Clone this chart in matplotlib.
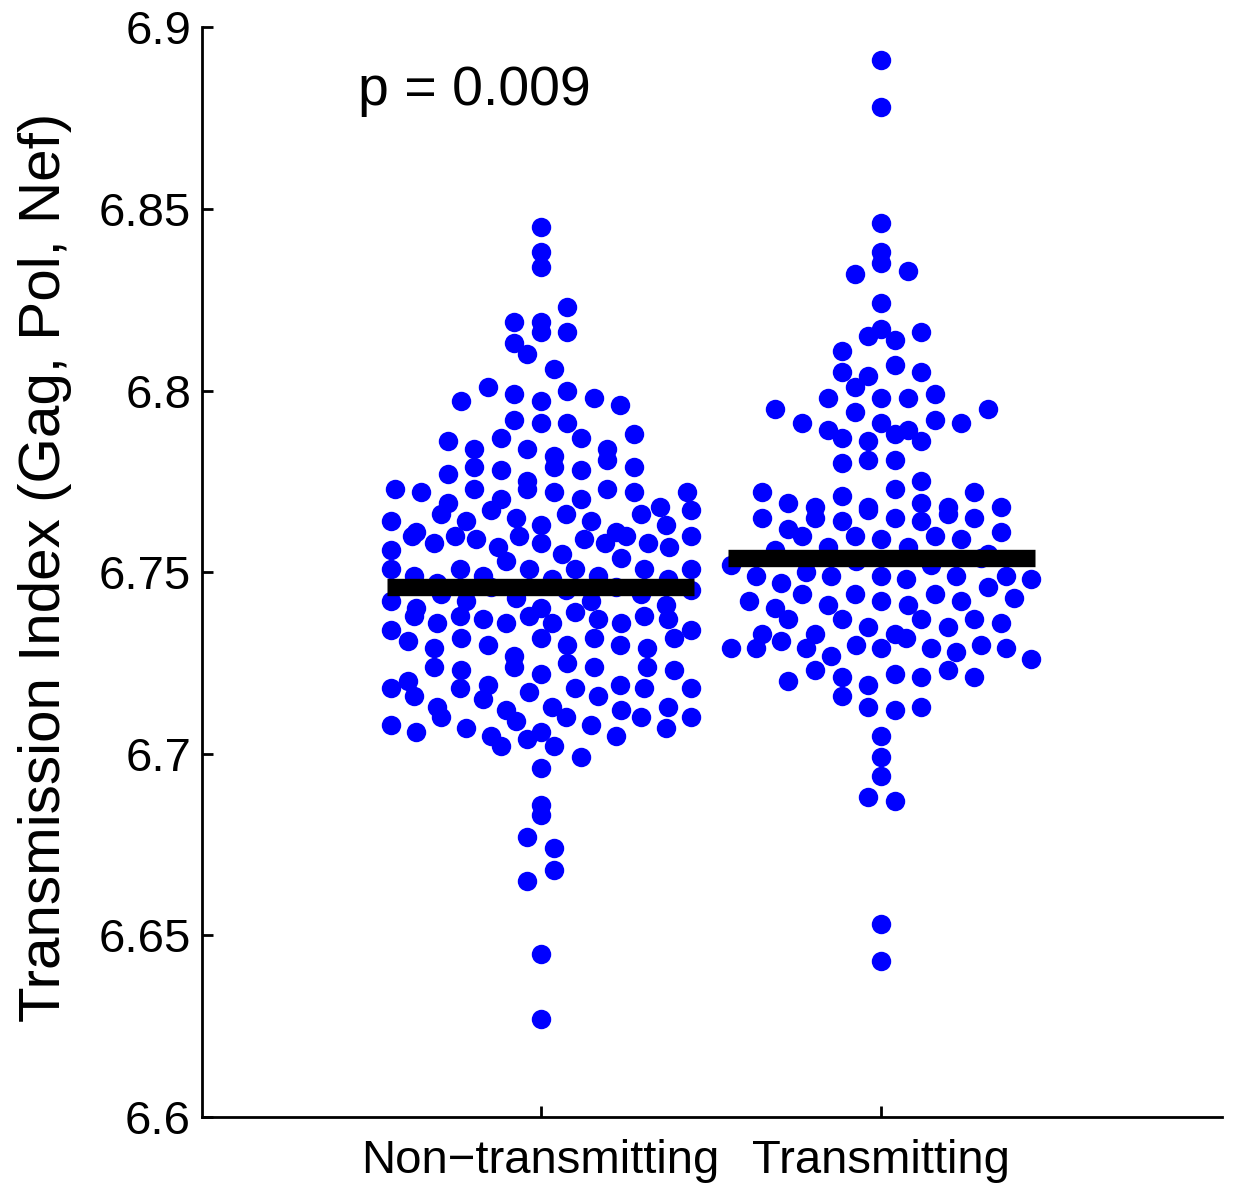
import matplotlib
matplotlib.use("Agg")
import matplotlib.pyplot as plt
import numpy as np

plt.rcParams['font.family'] = ['Liberation Sans', 'DejaVu Sans']

# values
groups = ["Non\u2212transmitting", "Transmitting"]

non_trans = [
    6.845, 6.838, 6.834, 6.823, 6.819, 6.819, 6.816, 6.816, 6.813, 6.810,
    6.806, 6.801, 6.800, 6.799, 6.798, 6.797, 6.796, 6.797,
    6.792, 6.791, 6.791, 6.788, 6.787, 6.784, 6.784, 6.782, 6.784, 6.786,
    6.787, 6.779, 6.779, 6.781, 6.778, 6.779, 6.778, 6.775, 6.772, 6.773,
    6.770, 6.772, 6.772, 6.777, 6.773, 6.773, 6.769, 6.772, 6.770, 6.773,
    6.765, 6.767, 6.767, 6.766, 6.766, 6.764, 6.764, 6.763, 6.768, 6.766,
    6.763, 6.764, 6.760, 6.759, 6.758, 6.760, 6.759, 6.760, 6.761, 6.757,
    6.757, 6.755, 6.758, 6.760, 6.761, 6.756, 6.754, 6.753, 6.758, 6.758,
    6.760, 6.751, 6.751, 6.751, 6.751, 6.751, 6.751, 6.749, 6.748, 6.749,
    6.749, 6.748, 6.747, 6.746, 6.746, 6.745,
    6.738, 6.740, 6.736, 6.736, 6.744, 6.742, 6.738, 6.738, 6.743, 6.740,
    6.741, 6.742, 6.745, 6.742, 6.744, 6.739, 6.737, 6.737, 6.737, 6.736,
    6.738, 6.734, 6.736, 6.732, 6.732, 6.730, 6.734, 6.729, 6.730, 6.732,
    6.731, 6.729, 6.732, 6.730, 6.724, 6.724, 6.723, 6.723, 6.724, 6.724,
    6.727, 6.722, 6.725, 6.718, 6.720, 6.716, 6.719, 6.718, 6.718, 6.716,
    6.715, 6.717, 6.719, 6.718, 6.718, 6.713, 6.713, 6.709, 6.710, 6.710,
    6.710, 6.713, 6.710, 6.707, 6.708, 6.712, 6.712, 6.708, 6.706, 6.707,
    6.706, 6.705, 6.702, 6.704, 6.705, 6.702,
    6.699, 6.696, 6.686, 6.683, 6.677, 6.674, 6.668, 6.665, 6.645, 6.627,
]

trans = [
    6.891, 6.878, 6.846, 6.838, 6.835, 6.833, 6.832,
    6.824, 6.817, 6.815, 6.816, 6.814, 6.811, 6.807, 6.805, 6.805, 6.804,
    6.801, 6.799, 6.798, 6.798, 6.798, 6.795, 6.794, 6.795, 6.791, 6.789,
    6.792, 6.791, 6.789, 6.791, 6.788, 6.787, 6.786, 6.786, 6.781, 6.781,
    6.780,
    6.775, 6.772, 6.772, 6.773, 6.768, 6.766, 6.764, 6.765, 6.765, 6.768,
    6.768, 6.769, 6.765, 6.769, 6.767, 6.762, 6.760, 6.759, 6.765, 6.764,
    6.768, 6.771, 6.760, 6.760, 6.761, 6.759, 6.757, 6.757, 6.756, 6.755,
    6.754, 6.753, 6.752, 6.752, 6.749, 6.749, 6.748, 6.746, 6.749, 6.750,
    6.749, 6.744, 6.744, 6.747, 6.749, 6.748, 6.744, 6.742, 6.742, 6.743,
    6.741, 6.742, 6.741, 6.740,
    6.737, 6.735, 6.733, 6.733, 6.737, 6.735, 6.737, 6.736, 6.737, 6.729,
    6.729, 6.732, 6.729, 6.726, 6.729, 6.730, 6.728, 6.731, 6.733, 6.729,
    6.729, 6.730, 6.727, 6.719, 6.720, 6.723, 6.721, 6.721, 6.722, 6.721,
    6.723, 6.716, 6.713, 6.713, 6.712, 6.705, 6.699, 6.694, 6.688, 6.687,
    6.653, 6.643,
]

medians = [6.746, 6.754]
p_text = "p = 0.009"


def spread(vals, center, bin_w=0.007, max_half=0.44, max_step=0.078):
    # plotSpread-like layout: points in the same y bin are spread along x
    vals = np.asarray(vals)
    xs = np.zeros(len(vals))
    bins = np.floor((vals - 6.6) / bin_w).astype(int)
    for b in np.unique(bins):
        idx = np.where(bins == b)[0]
        n = len(idx)
        idx = idx[np.argsort(vals[idx])]
        if n == 1:
            xs[idx] = center
            continue
        step = min(max_step, 2 * max_half / (n - 1))
        pos = (np.arange(n) - (n - 1) / 2) * step
        order = np.argsort((np.arange(n) * 0.618 + b * 0.37) % 1)
        xs[idx] = center + pos[order]
    return xs


fig = plt.figure(figsize=(12.4, 11.87), dpi=100)
ax = fig.add_axes([0.163, 0.059, 0.8225, 0.918])

for i, vals in enumerate([non_trans, trans]):
    x = spread(vals, i + 1)
    ax.plot(x, vals, 'o', color='#0000ff', markersize=14, markeredgewidth=0)
    ax.plot([i + 1 - 0.45, i + 1 + 0.45], [medians[i], medians[i]],
            color='black', linewidth=12.5, solid_capstyle='butt')

ax.set_xlim(0.006, 3.0)
ax.set_ylim(6.6, 6.9)
ax.set_xticks([1, 2])
ax.set_xticklabels(groups)
ax.set_yticks(np.arange(6.6, 6.901, 0.05))
ax.set_yticklabels(['6.6', '6.65', '6.7', '6.75', '6.8', '6.85', '6.9'])
ax.tick_params(direction='in', length=8, width=2, labelsize=34)
ax.tick_params(axis='x', pad=16)
ax.tick_params(axis='y', pad=8)
for s in ['top', 'right']:
    ax.spines[s].set_visible(False)
for s in ['left', 'bottom']:
    ax.spines[s].set_linewidth(2)

ax.text(0.465, 6.8785, p_text, fontsize=40, ha='left', va='baseline')
fig.text(0.036, 0.522, "Transmission Index (Gag, Pol, Nef)", rotation=90,
         fontsize=42, ha='center', va='center')

plt.savefig("out.png", dpi=100)
